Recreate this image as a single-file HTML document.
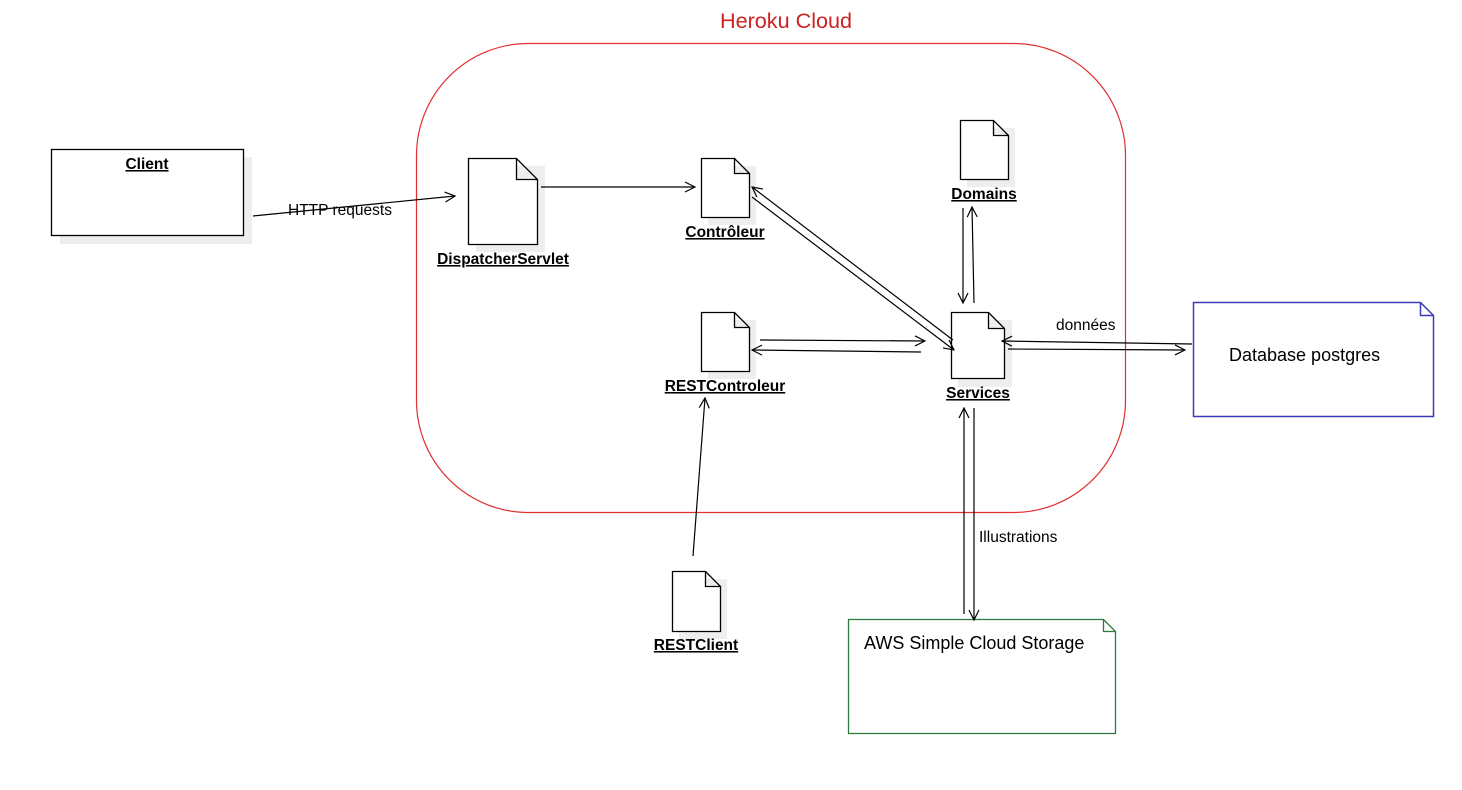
<!DOCTYPE html>
<html><head><meta charset="utf-8"><style>
html,body{margin:0;padding:0;background:#fff;width:1462px;height:790px;overflow:hidden}
svg text{font-family:"Liberation Sans",sans-serif}
.lb{font-weight:bold;font-size:15.5px;text-decoration:underline}
</style></head><body>
<svg width="1462" height="790" xmlns="http://www.w3.org/2000/svg">
<defs>
<marker id="a" markerWidth="12" markerHeight="12" refX="11" refY="6" orient="auto" markerUnits="userSpaceOnUse">
<path d="M1,1 L11,6 L1,11" fill="none" stroke="#000" stroke-width="1.2"/>
</marker>
</defs>
<text x="786" y="28" font-size="21.6" fill="#cc2222" text-anchor="middle">Heroku Cloud</text>
<rect x="416.5" y="43.5" width="709" height="469" rx="112" fill="none" stroke="#e03030" stroke-width="1.2"/>

<rect x="60" y="157" width="192" height="87" fill="#eee"/>
<rect x="51.5" y="149.5" width="192" height="86" fill="#fff" stroke="#000" stroke-width="1.3"/>
<text x="147" y="169" class="lb" text-anchor="middle">Client</text>

<g stroke="#000" stroke-width="1.3">
<path d="M476,166 h69 v86 h-69z" fill="#eee" stroke="none"/>
<path d="M468.5,158.5 h48 l21,21 v65 h-69z M516.5,158.5 v21 h21" fill="#fff"/>
<path d="M708,166 h48 v59 h-48z" fill="#eee" stroke="none"/>
<path d="M701.5,158.5 h33 l15,15 v44 h-48z M734.5,158.5 v15 h15" fill="#fff"/>
<path d="M967,128 h48 v59 h-48z" fill="#eee" stroke="none"/>
<path d="M960.5,120.5 h33 l15,15 v44 h-48z M993.5,120.5 v15 h15" fill="#fff"/>
<path d="M708,320 h48 v59 h-48z" fill="#eee" stroke="none"/>
<path d="M701.5,312.5 h33 l15,15 v44 h-48z M734.5,312.5 v15 h15" fill="#fff"/>
<path d="M958,320 h54 v67 h-54z" fill="#eee" stroke="none"/>
<path d="M951.5,312.5 h37 l16,16 v50 h-53z M988.5,312.5 v16 h16" fill="#fff"/>
<path d="M679,579 h48 v60 h-48z" fill="#eee" stroke="none"/>
<path d="M672.5,571.5 h33 l15,15 v45 h-48z M705.5,571.5 v15 h15" fill="#fff"/>
</g>
<text x="503" y="264" class="lb" text-anchor="middle">DispatcherServlet</text>
<text x="725" y="237" class="lb" text-anchor="middle">Contrôleur</text>
<text x="984" y="199" class="lb" text-anchor="middle">Domains</text>
<text x="725" y="391" class="lb" text-anchor="middle">RESTControleur</text>
<text x="978" y="398" class="lb" text-anchor="middle">Services</text>
<text x="696" y="650" class="lb" text-anchor="middle">RESTClient</text>

<path d="M1193.5,302.5 h227 l13,13 v101 h-240z M1420.5,302.5 v13 h13" fill="#fff" stroke="#3a3ab8" stroke-width="1.5"/>
<text x="1229" y="361" font-size="18">Database postgres</text>
<path d="M848.5,619.5 h255 l12,12 v102 h-267z M1103.5,619.5 v12 h12" fill="#fff" stroke="#2e7a3e" stroke-width="1.3"/>
<text x="864" y="649" font-size="18">AWS Simple Cloud Storage</text>

<g stroke="#000" stroke-width="1.2" fill="none" marker-end="url(#a)">
<line x1="253" y1="216" x2="455" y2="196"/>
<line x1="541" y1="187" x2="695" y2="187"/>
<line x1="752" y1="197" x2="954" y2="350"/>
<line x1="953" y1="340" x2="752" y2="187"/>
<line x1="963" y1="208" x2="963" y2="303"/>
<line x1="974" y1="303" x2="972" y2="207"/>
<line x1="760" y1="340" x2="925" y2="341"/>
<line x1="921" y1="352" x2="752" y2="350"/>
<line x1="1192" y1="344" x2="1002" y2="341"/>
<line x1="1008" y1="349" x2="1185" y2="350"/>
<line x1="964" y1="614" x2="964" y2="408"/>
<line x1="974" y1="408" x2="974" y2="620"/>
<line x1="693" y1="556" x2="705" y2="398"/>
</g>
<text x="288" y="215" font-size="15.5">HTTP requests</text>
<text x="1056" y="330" font-size="15.5">données</text>
<text x="979" y="542" font-size="15.5">Illustrations</text>
</svg>
</body></html>
